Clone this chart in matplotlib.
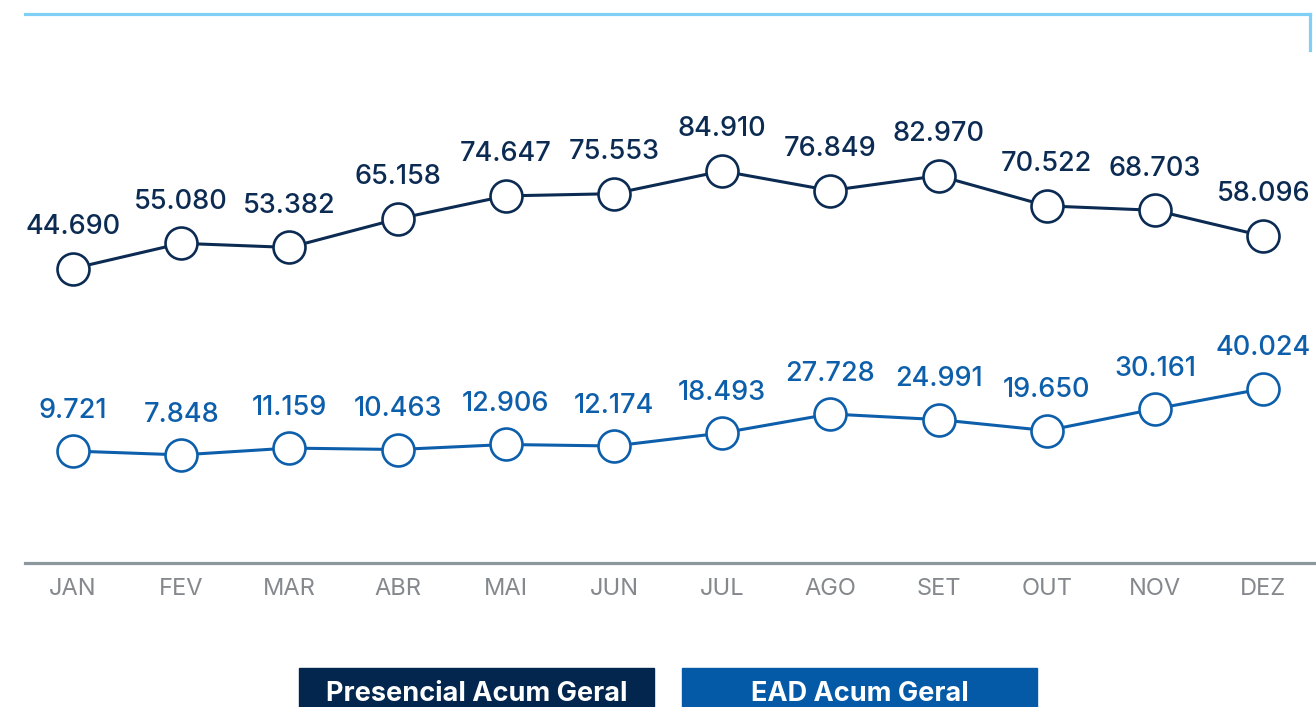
import matplotlib
matplotlib.use("Agg")
import matplotlib.pyplot as plt
from matplotlib.patches import Rectangle
from matplotlib.lines import Line2D

months = ["JAN", "FEV", "MAR", "ABR", "MAI", "JUN", "JUL", "AGO", "SET", "OUT", "NOV", "DEZ"]
presencial = [44690, 55080, 53382, 65158, 74647, 75553, 84910, 76849, 82970, 70522, 68703, 58096]
ead = [9721, 7848, 11159, 10463, 12906, 12174, 18493, 27728, 24991, 19650, 30161, 40024]
legend_labels = ["Presencial Acum Geral", "EAD Acum Geral"]

NAVY = "#0c2b53"
BLUE = "#0d5fab"
LIGHTBLUE = "#7fcff6"
AXGRAY = "#8d979e"
MONTHGRAY = "#85898d"
LEG_NAVY = "#03264f"
LEG_BLUE = "#055aa8"

FONT = ["Inter", "DejaVu Sans"]

W, H = 1316, 707
fig = plt.figure(figsize=(W / 100, H / 100), dpi=100)
fig.patch.set_facecolor("white")

ax = fig.add_axes([25 / W, 1 - 563 / H, 1 - 25 / W, (563 - 14) / H])
ax2 = ax.twinx()

x = list(range(len(months)))
ax.set_xlim(-0.4436, 11.488)
ax.set_ylim(-76801, 149684)
ax2.set_ylim(-44652, 221981)

for a in (ax, ax2):
    for s in ("top", "right", "left"):
        a.spines[s].set_visible(False)
    a.set_yticks([])
ax2.spines["bottom"].set_visible(False)
ax.spines["bottom"].set_color(AXGRAY)
ax.spines["bottom"].set_linewidth(2.3)

ax.set_xticks(x)
ax.set_xticklabels(months, fontsize=17, color=MONTHGRAY, family=FONT, fontweight="normal")
ax.tick_params(axis="x", length=0, pad=10.5)


def fmt(v):
    return f"{v:,}".replace(",", ".")


ax.plot(x, presencial, color=NAVY, lw=2.2, marker="o", ms=23, mfc="white",
        mec=NAVY, mew=1.9, zorder=3, clip_on=False)
ax2.plot(x, ead, color=BLUE, lw=2.2, marker="o", ms=23, mfc="white",
         mec=BLUE, mew=1.9, zorder=3, clip_on=False)

for i, v in enumerate(presencial):
    ax.annotate(fmt(v), (i, v), xytext=(0, 30), textcoords="offset points",
                ha="center", va="center", fontsize=19.5, color=NAVY,
                family=FONT, fontweight="medium")
for i, v in enumerate(ead):
    ax2.annotate(fmt(v), (i, v), xytext=(0, 29), textcoords="offset points",
                 ha="center", va="center", fontsize=19.5, color=BLUE,
                 family=FONT, fontweight="medium")

# top frame line
fig.add_artist(Line2D([25 / W, 1310 / W], [1 - 14 / H, 1 - 14 / H],
                      color=LIGHTBLUE, lw=2.3, transform=fig.transFigure))
fig.add_artist(Line2D([1310 / W, 1310 / W], [1 - 14 / H, 1 - 50 / H],
                      color=LIGHTBLUE, lw=2.3, transform=fig.transFigure))

# legend boxes
boxes = [(299, LEG_NAVY), (682, LEG_BLUE)]
for (bx, col), lab in zip(boxes, legend_labels):
    fig.patches.append(Rectangle((bx / W, -0.05), 355 / W, (707 - 668) / H + 0.05,
                                 transform=fig.transFigure, color=col))
    fig.text((bx + 177.5) / W, 1 - 694 / H, lab, ha="center", va="center",
             fontsize=19.5, color="white", fontweight="bold", family=FONT)

fig.savefig("out.png", dpi=100)
